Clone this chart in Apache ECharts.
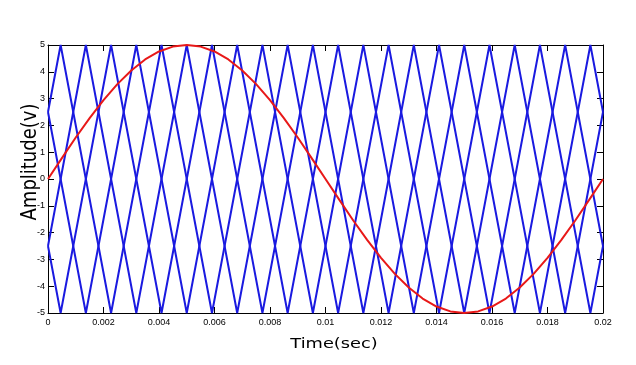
<!DOCTYPE html>
<html>
<head>
<meta charset="utf-8">
<script src="https://cdn.jsdelivr.net/npm/echarts@6/dist/echarts.min.js"></script>
<style>
html,body{margin:0;padding:0;background:#fff;}
#chart{width:636px;height:365px;}
</style>
</head>
<body>
<div id="chart"></div>
<script>
// Carrier vertex times (s)
const carrierTimesA = [0, 0.000455, 0.002273, 0.004091, 0.005909, 0.007727, 0.009545, 0.011364, 0.013182, 0.015, 0.016818, 0.018636, 0.02];
const carrierTimesB = [0, 0.001364, 0.003182, 0.005, 0.006818, 0.008636, 0.010455, 0.012273, 0.014091, 0.015909, 0.017727, 0.019545, 0.02];
// Carrier vertex values (V)
const carrier1 = [2.5, 5, -5, 5, -5, 5, -5, 5, -5, 5, -5, 5, -2.5];
const carrier2 = [-2.5, 5, -5, 5, -5, 5, -5, 5, -5, 5, -5, 5, 2.5];
const carrier3 = [-2.5, -5, 5, -5, 5, -5, 5, -5, 5, -5, 5, -5, 2.5];
const carrier4 = [2.5, -5, 5, -5, 5, -5, 5, -5, 5, -5, 5, -5, -2.5];
// Reference (red) wave
const refTimes = [0, 0.0005, 0.001, 0.0015, 0.002, 0.0025, 0.003, 0.0035, 0.004, 0.0045, 0.005,
  0.0055, 0.006, 0.0065, 0.007, 0.0075, 0.008, 0.0085, 0.009, 0.0095, 0.01,
  0.0105, 0.011, 0.0115, 0.012, 0.0125, 0.013, 0.0135, 0.014, 0.0145, 0.015,
  0.0155, 0.016, 0.0165, 0.017, 0.0175, 0.018, 0.0185, 0.019, 0.0195, 0.02];
const refValues = [0, 0.78, 1.55, 2.27, 2.94, 3.54, 4.05, 4.46, 4.76, 4.94, 5,
  4.94, 4.76, 4.46, 4.05, 3.54, 2.94, 2.27, 1.55, 0.78, 0,
  -0.78, -1.55, -2.27, -2.94, -3.54, -4.05, -4.46, -4.76, -4.94, -5,
  -4.94, -4.76, -4.46, -4.05, -3.54, -2.94, -2.27, -1.55, -0.78, 0];
// Tick settings
const xTicks = [0, 0.002, 0.004, 0.006, 0.008, 0.01, 0.012, 0.014, 0.016, 0.018, 0.02];
const yTicks = [-5, -4, -3, -2, -1, 0, 1, 2, 3, 4, 5];
const xLabel = 'Time(sec)';
const yLabel = 'Amplitude(v)';

function pairs(ts, vs) { return ts.map((t, i) => [t, vs[i]]); }

const chart = echarts.init(document.getElementById('chart'), null, {renderer: 'canvas'});
const tickFont = {fontFamily: "'Liberation Sans Narrow', 'Liberation Sans', Arial, sans-serif", fontSize: 9, color: '#000'};
const blue = '#1a1ae0';
const red = '#e81818';

function xAx(pos, showLabel) {
  return {
    type: 'value', position: pos, min: xTicks[0], max: xTicks[xTicks.length - 1],
    interval: xTicks[1] - xTicks[0],
    axisLine: {show: true, onZero: false, lineStyle: {color: '#000', width: 1}},
    axisTick: {show: true, inside: true, length: 6, lineStyle: {color: '#000'}},
    axisLabel: Object.assign({show: showLabel, margin: 5, formatter: v => String(parseFloat(v.toFixed(4)))}, tickFont),
    splitLine: {show: false}
  };
}
function yAx(pos, showLabel) {
  return {
    type: 'value', position: pos, min: yTicks[0], max: yTicks[yTicks.length - 1],
    interval: yTicks[1] - yTicks[0],
    axisLine: {show: true, onZero: false, lineStyle: {color: '#000', width: 1}},
    axisTick: {show: true, inside: true, length: 6, lineStyle: {color: '#000'}},
    axisLabel: Object.assign({show: showLabel, margin: 3}, tickFont),
    splitLine: {show: false}
  };
}

function lineSeries(data, color) {
  return {
    type: 'line', data: data, showSymbol: false, symbol: 'none',
    lineStyle: {color: color, width: 2}, itemStyle: {color: color},
    animation: false, clip: true
  };
}

chart.setOption({
  backgroundColor: '#fff',
  animation: false,
  grid: {left: 48, top: 45, width: 555, height: 268},
  xAxis: [xAx('bottom', true), xAx('top', false)],
  yAxis: [yAx('left', true), yAx('right', false)],
  series: [
    lineSeries(pairs(carrierTimesA, carrier1), blue),
    lineSeries(pairs(carrierTimesB, carrier2), blue),
    lineSeries(pairs(carrierTimesA, carrier3), blue),
    lineSeries(pairs(carrierTimesB, carrier4), blue),
    lineSeries(pairs(refTimes, refValues), red)
  ],
  graphic: [
    {
      type: 'text', x: 334, y: 344, scaleX: 1.27, scaleY: 1,
      style: {text: xLabel, font: "14px 'DejaVu Sans', sans-serif", fill: '#000', align: 'center', verticalAlign: 'middle'}
    },
    {
      type: 'text', x: 30, y: 162, rotation: Math.PI / 2, scaleX: 1, scaleY: 1.22,
      style: {text: yLabel, font: "18px 'DejaVu Sans', sans-serif", fill: '#000', align: 'center', verticalAlign: 'middle'}
    }
  ]
});
</script>
</body>
</html>
